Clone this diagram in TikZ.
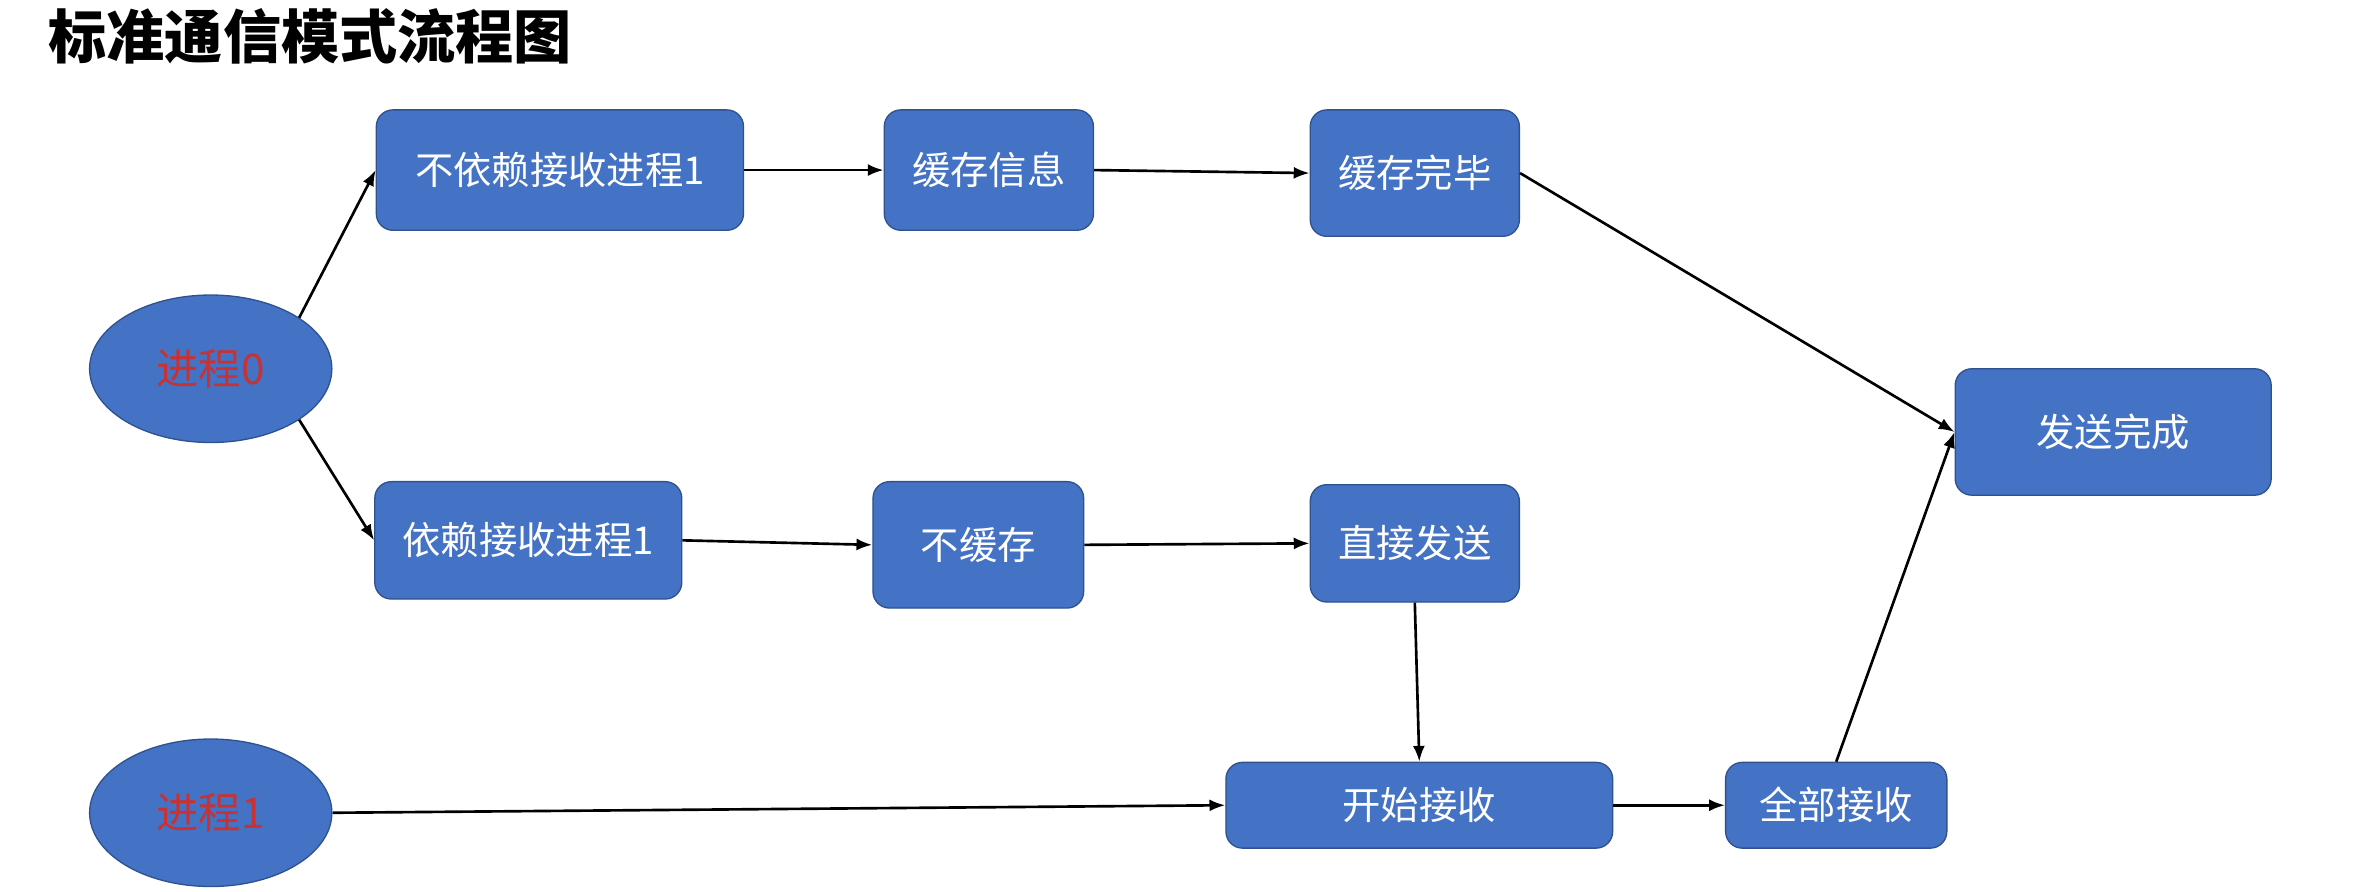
\documentclass[tikz,border=0pt]{standalone}
\usepackage{fontspec}
\setmainfont{Noto Sans CJK SC}
\usepackage{tikz}
\usetikzlibrary{arrows.meta,shapes.geometric}
\definecolor{blau}{HTML}{4472C4}
\definecolor{dblau}{HTML}{2F528F}
\definecolor{rot}{HTML}{C83232}
\tikzset{
  kasten/.style={rectangle,rounded corners=0.22cm,fill=blau,draw=dblau,line width=0.5pt,text=white,font=\fontsize{14.5}{16}\selectfont,inner sep=0pt},
  proz/.style={ellipse,fill=blau,draw=dblau,line width=0.5pt,text=rot,font=\fontsize{16}{18}\selectfont,minimum width=3.22cm,minimum height=1.96cm,inner sep=0pt},
  pfeil/.style={-{Latex[length=2.1mm,width=1.6mm]},black,line width=1pt},
}
\begin{document}
\begin{tikzpicture}[x=0.02cm,y=-0.02cm]
  \useasboundingbox (0,0) rectangle (1568,592);
  \node[anchor=west,font=\fontsize{22}{26}\selectfont\bfseries] (titel) at (26,24) {标准通信模式流程图};
  \node[proz] (p0) at (140,245) {进程0};
  \node[proz] (p1) at (140,540) {进程1};
  \node[kasten,minimum width=4.88cm,minimum height=1.6cm] (a) at (372,113) {不依赖接收进程1};
  \node[kasten,minimum width=2.78cm,minimum height=1.6cm] (b) at (657,113) {缓存信息};
  \node[kasten,minimum width=2.78cm,minimum height=1.68cm] (c) at (940,115) {缓存完毕};
  \node[kasten,minimum width=4.2cm,minimum height=1.68cm] (d) at (1404,287) {发送完成};
  \node[kasten,minimum width=4.08cm,minimum height=1.56cm] (e) at (351,359) {依赖接收进程1};
  \node[kasten,minimum width=2.8cm,minimum height=1.68cm] (f) at (650,362) {不缓存};
  \node[kasten,minimum width=2.78cm,minimum height=1.56cm] (g) at (940,361) {直接发送};
  \node[kasten,minimum width=5.14cm,minimum height=1.14cm] (h) at (943,535) {开始接收};
  \node[kasten,minimum width=2.94cm,minimum height=1.14cm] (i) at (1220,535) {全部接收};
  \draw[pfeil] (p0.30) -- (a.west);
  \draw[pfeil] (p0.-30) -- (e.west);
  \draw[pfeil] (a.east) -- (b.west);
  \draw[pfeil] (b.east) -- (c.west);
  \draw[pfeil] (c.east) -- (d.west);
  \draw[pfeil] (e.east) -- (f.west);
  \draw[pfeil] (f.east) -- (g.west);
  \draw[pfeil] (g.south) -- (h.north);
  \draw[pfeil] (p1.east) -- (h.west);
  \draw[pfeil] (h.east) -- (i.west);
  \draw[pfeil] (i.north) -- (d.west);
\end{tikzpicture}
\end{document}
